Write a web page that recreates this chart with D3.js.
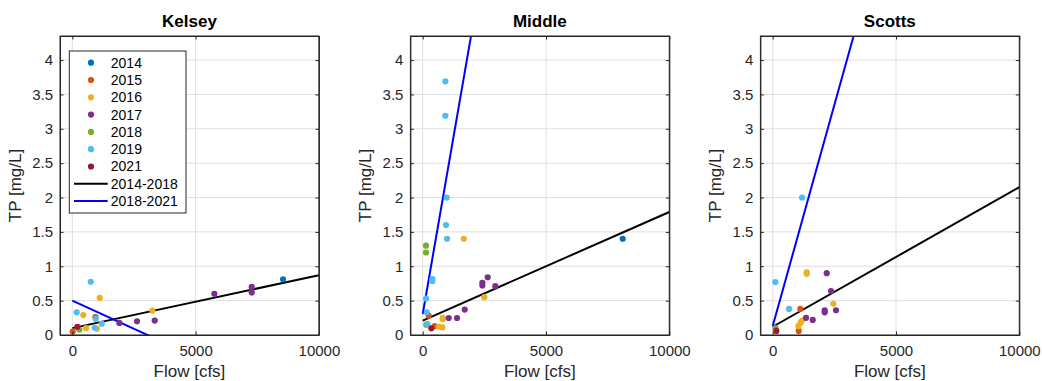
<!DOCTYPE html>
<html>
<head>
<meta charset="utf-8">
<script src="https://cdn.jsdelivr.net/npm/d3@7"></script>
<style>
  body { margin: 0; background: #fff; }
  svg { font-family: "Liberation Sans", Arial, Helvetica, sans-serif; }
</style>
</head>
<body>
<svg id="chart" width="1042" height="381"></svg>
<script>
const years = [2014, 2015, 2016, 2017, 2018, 2019, 2021];
const yearColors = ["#0072BD", "#D95319", "#EDB120", "#7E2F8E", "#77AC30", "#4DBEEE", "#A2142F"];
const sites = ["Kelsey", "Middle", "Scotts"];
const xTicks = [0, 5000, 10000];
const yTicks = [0, 0.5, 1, 1.5, 2, 2.5, 3, 3.5, 4];

// [year, flow (cfs), TP (mg/L)]
const kelseyPoints = [
  [2014, 8545, 0.81],
  [2015, 16, 0.05], [2015, 935, 0.26],
  [2016, 1111, 0.54], [2016, 446, 0.29], [2016, 1002, 0.09], [2016, 556, 0.10], [2016, 3245, 0.355],
  [2017, 1906, 0.175], [2017, 2624, 0.20], [2017, 3341, 0.21], [2017, 5760, 0.60], [2017, 7275, 0.70], [2017, 7275, 0.62],
  [2018, 284, 0.08],
  [2019, 746, 0.775], [2019, 178, 0.33], [2019, 950, 0.235], [2019, 1193, 0.165], [2019, 908, 0.105],
  [2021, 203, 0.12]
];
const middlePoints = [
  [2014, 8111, 1.40],
  [2015, 243, 0.28], [2015, 487, 0.13],
  [2016, 649, 0.12], [2016, 795, 0.11], [2016, 811, 0.25], [2016, 811, 0.23], [2016, 1663, 1.40], [2016, 2497, 0.55],
  [2017, 1054, 0.247], [2017, 1391, 0.247], [2017, 1703, 0.37], [2017, 2419, 0.72], [2017, 2419, 0.76], [2017, 2636, 0.84], [2017, 2944, 0.71],
  [2018, 134, 1.30], [2018, 134, 1.20], [2018, 146, 0.15],
  [2019, 917, 3.69], [2019, 917, 3.19], [2019, 973, 2.0], [2019, 945, 1.60], [2019, 986, 1.40], [2019, 390, 0.815], [2019, 390, 0.785],
  [2019, 134, 0.53], [2019, 162, 0.33], [2019, 190, 0.16],
  [2021, 349, 0.097]
];
const scottsPoints = [
  [2015, 1120, 0.38], [2015, 1054, 0.06],
  [2016, 1378, 0.91], [2016, 1378, 0.89], [2016, 2459, 0.455], [2016, 1188, 0.21], [2016, 1130, 0.18], [2016, 1038, 0.13],
  [2017, 2190, 0.90], [2017, 2364, 0.64], [2017, 2108, 0.36], [2017, 2108, 0.33], [2017, 2567, 0.36], [2017, 1350, 0.25], [2017, 1622, 0.22],
  [2018, 113, 0.10],
  [2019, 1188, 2.0], [2019, 107, 0.77], [2019, 661, 0.38],
  [2021, 146, 0.06]
];

// fitted lines: [intercept, slope] per site
const fitPeriods = ["2014-2018", "2018-2021"];
const fitColors = ["#000000", "#0000FF"];
const fit20142018 = [[0.10, 0.000077], [0.21, 0.000158], [0.12, 0.000203]];
const fit20182021 = [[0.50, -0.000164], [0.305, 0.002065], [0.13, 0.001287]];
const fitFlowRange = [0, 10000];

const pointsBySite = [kelseyPoints, middlePoints, scottsPoints];
const colorOf = d3.scaleOrdinal().domain(years).range(yearColors);

const svg = d3.select("#chart");
const panelLeft = [60, 410.4, 760.4];
const plotW = 258.9, plotH = 299, plotTop = 36;
const axisColor = "#262626";

sites.forEach((site, i) => {
  const g = svg.append("g").attr("transform", `translate(${panelLeft[i]},${plotTop})`);
  const x = d3.scaleLinear().domain([-500, 10000]).range([0, plotW]);
  const y = d3.scaleLinear().domain([0, 4.35]).range([plotH, 0]);

  // grid
  g.append("g").selectAll("line").data(xTicks).join("line")
    .attr("x1", d => x(d)).attr("x2", d => x(d)).attr("y1", 0).attr("y2", plotH)
    .attr("stroke", "#dfdfdf").attr("stroke-width", 1);
  g.append("g").selectAll("line").data(yTicks).join("line")
    .attr("x1", 0).attr("x2", plotW).attr("y1", d => y(d)).attr("y2", d => y(d))
    .attr("stroke", "#dfdfdf").attr("stroke-width", 1);

  const clipId = "clip" + i;
  g.append("clipPath").attr("id", clipId).append("rect")
    .attr("width", plotW).attr("height", plotH);

  const plot = g.append("g").attr("clip-path", `url(#${clipId})`);

  // fit lines
  [fit20142018[i], fit20182021[i]].forEach((f, k) => {
    const pts = fitFlowRange.map(q => [q, f[0] + f[1] * q]);
    plot.append("path")
      .attr("d", d3.line().x(d => x(d[0])).y(d => y(d[1]))(pts))
      .attr("fill", "none")
      .attr("stroke", fitColors[k])
      .attr("stroke-width", 2);
  });

  // scatter
  plot.selectAll("circle").data(pointsBySite[i]).join("circle")
    .attr("cx", d => x(d[1]))
    .attr("cy", d => y(d[2]))
    .attr("r", 3.1)
    .attr("fill", d => colorOf(d[0]));

  // axes (ticks inside, box)
  g.append("g").attr("transform", `translate(0,${plotH})`)
    .call(d3.axisBottom(x).tickValues(xTicks).tickFormat(d3.format("d")).tickSize(-3.5).tickPadding(10).tickSizeOuter(0));
  g.append("g")
    .call(d3.axisLeft(y).tickValues(yTicks).tickFormat(d3.format("")).tickSize(-3.5).tickPadding(7).tickSizeOuter(0));
  g.append("g").call(d3.axisTop(x).tickValues(xTicks).tickSize(-3.5).tickFormat("").tickSizeOuter(0));
  g.append("g").attr("transform", `translate(${plotW},0)`)
    .call(d3.axisRight(y).tickValues(yTicks).tickSize(-3.5).tickFormat("").tickSizeOuter(0));
  g.selectAll(".domain").attr("stroke", axisColor);
  g.selectAll(".tick line").attr("stroke", axisColor);
  g.selectAll(".tick text").attr("fill", axisColor).style("font-size", "15px")
    .style("font-family", "'Liberation Sans', Arial, sans-serif");
  g.append("rect").attr("width", plotW).attr("height", plotH)
    .attr("fill", "none").attr("stroke", axisColor).attr("stroke-width", 1);

  // titles / labels
  g.append("text").attr("x", plotW / 2).attr("y", -9)
    .attr("text-anchor", "middle").style("font-size", "17px").style("font-weight", "bold")
    .attr("fill", "#000").text(site);
  g.append("text").attr("x", plotW / 2).attr("y", plotH + 42)
    .attr("text-anchor", "middle").style("font-size", "17px")
    .attr("fill", axisColor).text("Flow [cfs]");
  g.append("text")
    .attr("transform", `translate(-39,${plotH / 2}) rotate(-90)`)
    .attr("text-anchor", "middle").style("font-size", "17px")
    .attr("fill", axisColor).text("TP [mg/L]");

  // legend (first panel)
  if (i === 0) {
    const lg = g.append("g").attr("transform", "translate(9.3,15)");
    lg.append("rect").attr("width", 116.7).attr("height", 162)
      .attr("fill", "#fff").attr("stroke", axisColor).attr("stroke-width", 1);
    const rowH = 17.3;
    years.forEach((yr, k) => {
      const cy = 11.7 + k * rowH;
      lg.append("circle").attr("cx", 21.7).attr("cy", cy).attr("r", 3.1).attr("fill", colorOf(yr));
      lg.append("text").attr("x", 41.5).attr("y", cy).attr("dy", "0.35em")
        .style("font-size", "14px").attr("fill", "#000").text(yr);
    });
    fitPeriods.forEach((p, k) => {
      const cy = 11.7 + (years.length + k) * rowH;
      lg.append("line").attr("x1", 4.7).attr("x2", 38.4).attr("y1", cy).attr("y2", cy)
        .attr("stroke", fitColors[k]).attr("stroke-width", 2);
      lg.append("text").attr("x", 41.5).attr("y", cy).attr("dy", "0.35em")
        .style("font-size", "14px").attr("fill", "#000").text(p);
    });
  }
});
</script>
</body>
</html>
